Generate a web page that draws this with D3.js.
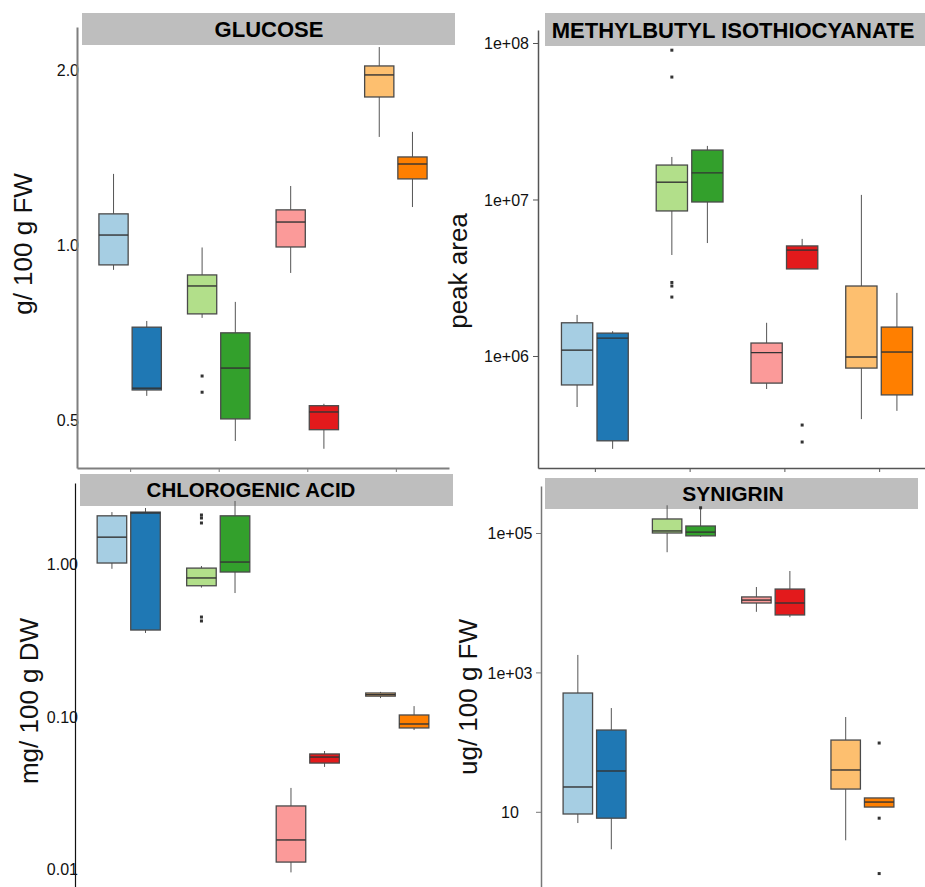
<!DOCTYPE html>
<html><head><meta charset="utf-8">
<script src="https://cdn.jsdelivr.net/npm/d3@7"></script>
<style>body{margin:0;background:#fff} svg{display:block;font-family:"Liberation Sans",Arial,sans-serif}</style>
</head><body><svg id="c" width="925" height="887"></svg>
<script>
const groups = ["G1", "G2", "G3", "G4"];
const seriesColors = ["#a6cee3", "#1f78b4", "#b2df8a", "#33a02c", "#fb9a99", "#e31a1c", "#fdbf6f", "#ff7f00"];

// each entry: [lower whisker, Q1, median, Q3, upper whisker]
const glucoseStats = [
  [0.906, 0.924, 1.04, 1.131, 1.325],
  [0.550, 0.563, 0.567, 0.722, 0.740],
  [0.749, 0.761, 0.850, 0.888, 0.99],
  [0.460, 0.502, 0.614, 0.706, 0.798],
  [0.895, 0.992, 1.095, 1.149, 1.263],
  [0.446, 0.481, 0.516, 0.529, 0.533],
  [1.534, 1.797, 1.961, 2.032, 2.19],
  [1.162, 1.299, 1.378, 1.417, 1.565]
];
const glucoseOutliers = [[], [], [0.595, 0.558], [], [], [], [], []];
const glucoseTicks = [0.5, 1, 2];
const glucoseTickLabels = ["0.5", "1.0", "2.0"];

const mbitcStats = [
  [4.72e5, 6.53e5, 1.09e6, 1.63e6, 1.83e6],
  [2.55e5, 2.87e5, 1.30e6, 1.40e6, 1.44e6],
  [4.42e6, 8.45e6, 1.29e7, 1.66e7, 1.87e7],
  [5.27e6, 9.64e6, 1.48e7, 2.07e7, 2.2e7],
  [6.15e5, 6.71e5, 1.05e6, 1.21e6, 1.63e6],
  [3.6e6, 3.6e6, 4.75e6, 5.05e6, 5.6e6],
  [3.95e5, 8.37e5, 9.86e5, 2.8e6, 1.07e7],
  [4.46e5, 5.64e5, 1.06e6, 1.53e6, 2.53e6]
];
const mbitcOutliers = [[], [], [9.0e7, 6.06e7, 2.95e6, 2.8e6, 2.38e6], [], [], [3.62e5, 2.82e5], [], []];
const mbitcTicks = [1e6, 1e7, 1e8];
const mbitcTickLabels = ["1e+06", "1e+07", "1e+08"];

const chlorStats = [
  [0.93, 1.015, 1.50, 2.07, 2.19],
  [0.353, 0.369, 2.16, 2.19, 2.33],
  [0.70, 0.72, 0.81, 0.94, 0.97],
  [0.645, 0.886, 1.03, 2.07, 2.59],
  [0.0095, 0.0111, 0.0155, 0.0259, 0.034],
  [0.0467, 0.0495, 0.0542, 0.0568, 0.0594],
  [0.132, 0.136, 0.139, 0.1426, 0.145],
  [0.0815, 0.0841, 0.0893, 0.1023, 0.117]
];
const chlorOutliers = [[], [], [2.096, 2.003, 1.858, 0.449, 0.423], [], [], [], [], []];
const chlorTicks = [0.01, 0.1, 1];
const chlorTickLabels = ["0.01", "0.10", "1.00"];

const synStats = [
  [6.9, 9.3, 22.7, 506, 1780],
  [2.9, 8.1, 38.5, 149, 308],
  [5.3e4, 1.0e5, 1.07e5, 1.59e5, 2.5e5],
  [8.8e4, 9.1e4, 1.03e5, 1.26e5, 2.2e5],
  [7.4e3, 9.9e3, 1.09e4, 1.21e4, 1.68e4],
  [6.2e3, 6.67e3, 9.9e3, 1.57e4, 2.85e4],
  [3.9, 21.2, 39.8, 107, 229],
  [11.7, 11.7, 13.8, 15.8, 15.8]
];
const synOutliers = [[], [], [], [2.3e5], [], [], [], [97, 8.1, 1.3]];
const synTicks = [10, 1e3, 1e5];
const synTickLabels = ["10", "1e+03", "1e+05"];

// layout (pixels) for the four facets
const panels = [
  {title: "GLUCOSE", ylab: "g/ 100 g FW", stats: glucoseStats, outliers: glucoseOutliers, ticks: glucoseTicks, tickLabels: glucoseTickLabels,
   x0: 77, x1: 449, yTop: 27, yBot: 468, yDomain: [0.4133, 2.371], strip: [82, 13, 455, 45], titleX: 269, titleY: 37, titleSize: 22,
   ylabX: 32, ylabY: 244, xAxis: true, axisColor: "#7f7f7f", axisW: 2, tickLen: 0, labelMode: "overlap", labelOff: 2},
  {title: "METHYLBUTYL ISOTHIOCYANATE", ylab: "peak area", stats: mbitcStats, outliers: mbitcOutliers, ticks: mbitcTicks, tickLabels: mbitcTickLabels,
   x0: 538, x1: 936, yTop: 30, yBot: 468, yDomain: [1.924e5, 1.211e8], strip: [545, 13, 935, 46], titleX: 733, titleY: 38, titleSize: 22,
   ylabX: 467, ylabY: 271, xAxis: true, axisColor: "#555", axisW: 1.5, tickLen: 5, labelMode: "end", labelOff: -9},
  {title: "CHLOROGENIC ACID", ylab: "mg/ 100 g DW", stats: chlorStats, outliers: chlorOutliers, ticks: chlorTicks, tickLabels: chlorTickLabels,
   x0: 75, x1: 451, yTop: 483, yBot: 924, yDomain: [0.004357, 3.398], strip: [80, 474, 453, 506], titleX: 251, titleY: 497, titleSize: 20.5,
   ylabX: 38, ylabY: 701, xAxis: false, axisColor: "#111", axisW: 1.2, tickLen: 0, labelMode: "overlap", labelOff: 3},
  {title: "SYNIGRIN", ylab: "ug/ 100 g FW", stats: synStats, outliers: synOutliers, ticks: synTicks, tickLabels: synTickLabels,
   x0: 541, x1: 916, yTop: 486, yBot: 924, yDomain: [0.2456, 4.725e5], strip: [545, 478, 918, 509], titleX: 733, titleY: 501, titleSize: 21,
   ylabX: 477, ylabY: 697, xAxis: false, axisColor: "#777", axisW: 1.5, tickLen: 5, labelMode: "middle", labelOff: -31}
];

const svg = d3.select("#c");
svg.append("rect").attr("width", 925).attr("height", 887).attr("fill", "#fff");

panels.forEach(p => {
  const g = svg.append("g");
  g.append("rect").attr("x", p.strip[0]).attr("y", p.strip[1])
    .attr("width", p.strip[2] - p.strip[0]).attr("height", p.strip[3] - p.strip[1]).attr("fill", "#bebebe");
  g.append("text").attr("x", p.titleX).attr("y", p.titleY).attr("text-anchor", "middle")
    .attr("font-weight", "bold").attr("font-size", p.titleSize).attr("fill", "#000").text(p.title);

  const x = d3.scalePoint().domain(groups).range([p.x0, p.x1]).padding(0.6);
  const y = d3.scaleLog().domain(p.yDomain).range([p.yBot, p.yTop]);
  const step = x.step();
  const bw = 0.33 * step, off = 0.1875 * step;

  p.stats.forEach((s, i) => {
    const cx = x(groups[Math.floor(i / 2)]) + (i % 2 ? off : -off);
    const b = g.append("g");
    b.append("line").attr("x1", cx).attr("x2", cx).attr("y1", y(s[0])).attr("y2", y(s[1]))
      .attr("stroke", "#555").attr("stroke-width", 1);
    b.append("line").attr("x1", cx).attr("x2", cx).attr("y1", y(s[3])).attr("y2", y(s[4]))
      .attr("stroke", "#555").attr("stroke-width", 1);
    b.append("rect").attr("x", cx - bw / 2).attr("y", y(s[3])).attr("width", bw)
      .attr("height", Math.max(1, y(s[1]) - y(s[3])))
      .attr("fill", seriesColors[i]).attr("stroke", "#4a4a4a").attr("stroke-width", 1.3);
    b.append("line").attr("x1", cx - bw / 2).attr("x2", cx + bw / 2).attr("y1", y(s[2])).attr("y2", y(s[2]))
      .attr("stroke", "#333").attr("stroke-width", 1.4);
    p.outliers[i].forEach(v => {
      b.append("rect").attr("x", cx - 1.5).attr("y", y(v) - 1.5).attr("width", 3).attr("height", 3).attr("fill", "#333");
    });
  });

  const ya = d3.axisLeft(y).tickValues(p.ticks).tickFormat((d, i) => p.tickLabels[i])
    .tickSizeOuter(0).tickSizeInner(p.tickLen).tickPadding(0);
  const ag = g.append("g").attr("transform", `translate(${p.x0},0)`).call(ya);
  ag.select(".domain").attr("stroke", p.axisColor).attr("stroke-width", p.axisW);
  ag.selectAll(".tick line").attr("stroke", p.axisColor).attr("stroke-width", 1);
  ag.selectAll(".tick text").attr("font-size", 16).attr("fill", "#111")
    .attr("font-family", "'Liberation Sans', Arial, sans-serif")
    .attr("x", p.labelOff).attr("dy", "0.36em")
    .attr("text-anchor", p.labelMode === "middle" ? "middle" : "end");
  if (p.labelMode === "overlap") ag.select(".domain").raise();

  if (p.xAxis) {
    const xa = d3.axisBottom(x).tickFormat("").tickSizeOuter(0).tickSizeInner(4);
    const xg = g.append("g").attr("transform", `translate(0,${p.yBot})`).call(xa);
    xg.select(".domain").attr("stroke", p.axisColor).attr("stroke-width", p.axisW);
    xg.selectAll(".tick line").attr("stroke", p.axisColor).attr("stroke-width", 1);
  }

  g.append("text").attr("transform", `translate(${p.ylabX},${p.ylabY}) rotate(-90)`)
    .attr("text-anchor", "middle").attr("font-size", 26).attr("fill", "#111").text(p.ylab);
});
</script></body></html>
